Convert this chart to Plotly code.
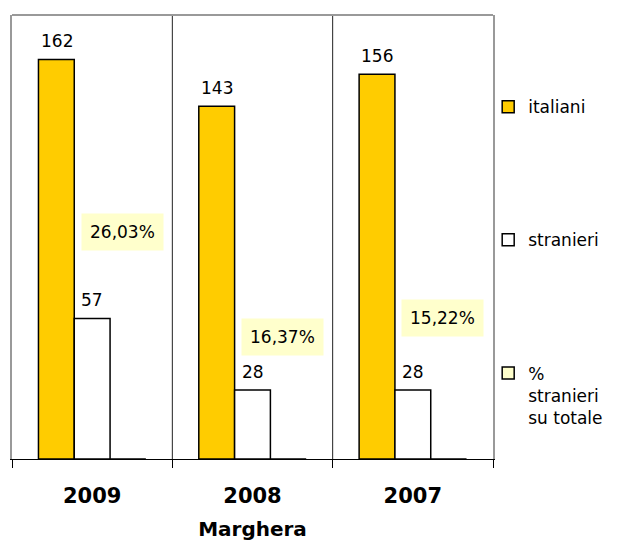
import plotly.graph_objects as go

categories = ["2009", "2008", "2007"]
italiani = [162, 143, 156]
stranieri = [57, 28, 28]
pct_stranieri = [26.03, 16.37, 15.22]
pct_label_y = [92, 49.5, 57]

FONT = "DejaVu Sans"
YELLOW = "#FFCC00"
PALE = "#FFFFCC"

fig = go.Figure()
fig.add_trace(go.Bar(name="italiani", x=categories, y=italiani,
                     marker=dict(color=YELLOW, line=dict(color="#000000", width=1.5)),
                     legendgroup="a"))
fig.add_trace(go.Bar(name="stranieri", x=categories, y=stranieri,
                     marker=dict(color="#FFFFFF", line=dict(color="#000000", width=1.5)),
                     legendgroup="b"))
fig.add_trace(go.Bar(name="%<br>stranieri<br>su totale", x=categories, y=[0, 0, 0],
                     marker=dict(color=PALE, line=dict(color="#000000", width=1.5)),
                     legendgroup="c", hoverinfo="skip"))

ann = []
for i, c in enumerate(categories):
    ann.append(dict(x=i, y=italiani[i], xref="x", yref="y", text=str(italiani[i]),
                    showarrow=False, xshift=-35.6, yanchor="bottom", yshift=6,
                    font=dict(family=FONT, size=17, color="#000")))
    ann.append(dict(x=i, y=stranieri[i], xref="x", yref="y", text=str(stranieri[i]),
                    showarrow=False, xshift=0, yanchor="bottom", yshift=6,
                    font=dict(family=FONT, size=17, color="#000")))
    ann.append(dict(x=i, y=pct_label_y[i], xref="x", yref="y",
                    text=f"{pct_stranieri[i]:.2f}%".replace(".", ","),
                    showarrow=False, xshift=30, bgcolor=PALE, borderpad=8,
                    font=dict(family=FONT, size=17, color="#000")))

shapes = [
    dict(type="line", xref="paper", yref="paper", x0=1/3, x1=1/3, y0=0, y1=1,
         line=dict(color="#222222", width=1)),
    dict(type="line", xref="paper", yref="paper", x0=2/3, x1=2/3, y0=0, y1=1,
         line=dict(color="#222222", width=1)),
    dict(type="line", xref="paper", yref="paper", x0=0, x1=1, y0=1, y1=1,
         line=dict(color="#999999", width=2)),
]

fig.update_layout(
    width=621, height=545,
    margin=dict(l=4, r=136, t=7, b=94, autoexpand=False),
    paper_bgcolor="white", plot_bgcolor="white",
    barmode="group", bargap=0.33, bargroupgap=0,
    font=dict(family=FONT, size=17, color="#000"),
    showlegend=True,
    legend=dict(x=0.99, xanchor="left", y=0.833, yanchor="top",
                traceorder="grouped", tracegroupgap=108, valign="top",
                font=dict(family=FONT, size=17, color="#000"),
                bgcolor="rgba(0,0,0,0)"),
    annotations=ann, shapes=shapes,
    xaxis=dict(type="category", range=[-0.5, 2.5], autorange=False,
               showline=True, linecolor="#000", linewidth=1,
               ticks="outside", tickson="boundaries", ticklen=8, tickcolor="#000",
               showgrid=False, automargin=False, tickangle=0, ticklabelstandoff=18,
               tickfont=dict(family=FONT, size=21, color="#000", weight="bold"),
               title=dict(text="<b>Marghera</b>", standoff=14,
                          font=dict(family=FONT, size=20, color="#000"))),
    yaxis=dict(range=[0, 180], showgrid=False, showticklabels=False, ticks="",
               zeroline=False, showline=True, linecolor="#999999", linewidth=2,
               mirror=True, automargin=False),
)

fig.write_html("out.html")
